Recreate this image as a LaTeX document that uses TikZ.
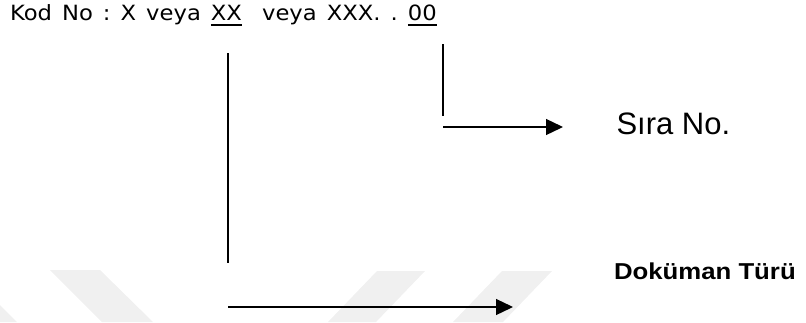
\documentclass[tikz,border=0pt]{standalone}
\usepackage{fontspec}
\usepackage{graphicx}
\usetikzlibrary{arrows.meta}
\newfontfamily\dejavu{DejaVu Sans}
\newfontfamily\libsans{Liberation Sans}
\newcommand\myul[1]{\setbox0=\hbox{#1}\rlap{\rule[-5.8pt]{\wd0}{1.4pt}}\box0}
\tikzset{
  wm/.style={fill=black!6, draw=none},
  seg/.style={line width=1.3pt, draw=black},
  arr/.style={seg, -{Triangle[length=17pt,width=16pt]}},
  lbl/.style={anchor=base west, inner sep=0pt, outer sep=0pt},
}
\begin{document}
\begin{tikzpicture}[x=1pt,y=-1pt]
\useasboundingbox (0,0) rectangle (806,322);
% faint watermark
\fill[wm] (50,270) -- (100,270) -- (153,322) -- (102,322) -- cycle;
\fill[wm] (0,305) -- (17,322) -- (0,322) -- cycle;
\fill[wm] (377,271) -- (425,271) -- (376,322) -- (328,322) -- cycle;
\fill[wm] (502,271) -- (552,271) -- (503,322) -- (453,322) -- cycle;
% title
\node[lbl] (title) at (10,20) {\scalebox{1.08}[1]{\dejavu\fontsize{21}{25}\selectfont\frenchspacing\spaceskip=9.3pt Kod No : X veya \myul{XX}\ \ veya XXX. . \myul{00}}};
% labels
\node[lbl] (sira) at (616.5,134) {\libsans\fontsize{31}{36}\selectfont Sıra No.};
\node[lbl] (doc) at (614,279) {\scalebox{1.12}[1]{\libsans\bfseries\fontsize{23}{27}\selectfont Doküman Türü}};
% connectors
\coordinate (v1t) at (228,53);
\coordinate (v1b) at (228,263);
\coordinate (v2t) at (443,44);
\coordinate (v2b) at (443,116);
\coordinate (a1s) at (443,127);
\coordinate (a1e) at (563,127);
\coordinate (a2s) at (228,307);
\coordinate (a2e) at (513,307);
\draw[seg] (v1t) -- (v1b);
\draw[seg] (v2t) -- (v2b);
\draw[arr] (a1s) -- (a1e);
\draw[arr] (a2s) -- (a2e);
\end{tikzpicture}
\end{document}
